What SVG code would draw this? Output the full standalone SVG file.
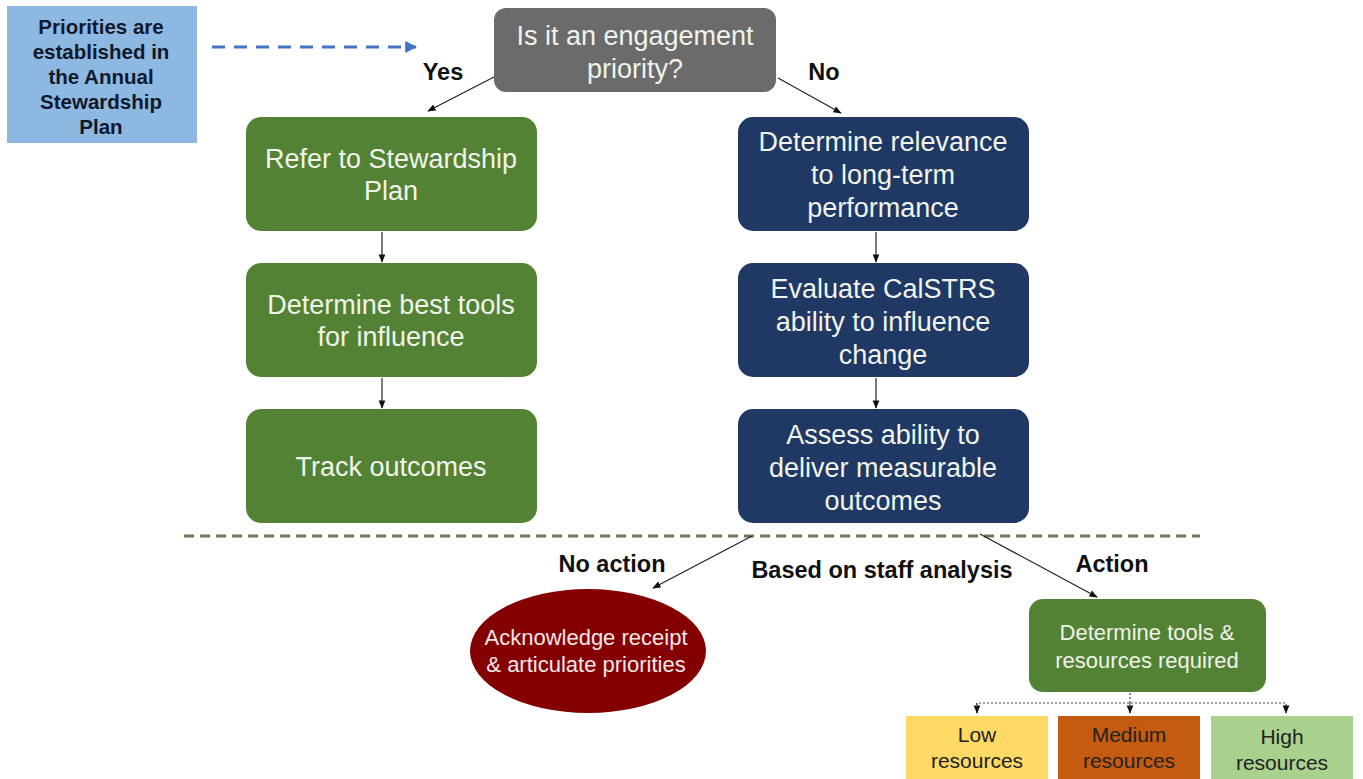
<svg xmlns="http://www.w3.org/2000/svg" width="1363" height="779" viewBox="0 0 1363 779">
<defs>
<marker id="ah" viewBox="0 0 10 10" refX="9" refY="5" markerWidth="7" markerHeight="7" orient="auto"><path d="M0,1 L10,5 L0,9 z" fill="#111"/></marker>
<marker id="ahb" viewBox="0 0 10 10" refX="9" refY="5" markerWidth="4" markerHeight="4" orient="auto"><path d="M0,0 L10,5 L0,10 z" fill="#4472c4"/></marker>
<style>
.t{font-family:"Liberation Sans",Arial,sans-serif;text-anchor:middle}
.w{fill:#f0f4ea;font-size:27px}
.lab{font-weight:bold;font-size:23.5px;fill:#111}
.green{fill:#548235}
.navy{fill:#1f3864}
.conn{stroke:#222;stroke-width:1.2;fill:none}
</style>
</defs>
<rect width="1363" height="779" fill="#fff"/>

<g id="plan">
<rect x="7" y="6" width="190" height="137" fill="#8cb8e2"/>
<text class="t" font-weight="bold" font-size="20.5" fill="#10182a"><tspan x="101" y="34">Priorities are</tspan><tspan x="101" y="59">established in</tspan><tspan x="101" y="84">the Annual</tspan><tspan x="101" y="109">Stewardship</tspan><tspan x="101" y="134">Plan</tspan></text>
</g>

<g id="question">
<rect x="494" y="8" width="282" height="84" rx="12" fill="#6b6b6b"/>
<text class="t w"><tspan x="635" y="45">Is it an engagement</tspan><tspan x="635" y="78">priority?</tspan></text>
</g>

<g id="yes-label"><text class="t lab" x="443" y="80" font-size="25">Yes</text></g>
<g id="no-label"><text class="t lab" x="824" y="80" font-size="25">No</text></g>

<g id="refer">
<rect class="green" x="246" y="117" width="291" height="114" rx="15"/>
<text class="t w"><tspan x="391" y="168">Refer to Stewardship</tspan><tspan x="391" y="200">Plan</tspan></text>
</g>
<g id="best-tools">
<rect class="green" x="246" y="263" width="291" height="114" rx="15"/>
<text class="t w"><tspan x="391" y="314">Determine best tools</tspan><tspan x="391" y="346">for influence</tspan></text>
</g>
<g id="track">
<rect class="green" x="246" y="409" width="291" height="114" rx="15"/>
<text class="t w" x="391" y="476">Track outcomes</text>
</g>

<g id="relevance">
<rect class="navy" x="738" y="117" width="291" height="114" rx="15"/>
<text class="t w"><tspan x="883" y="151">Determine relevance</tspan><tspan x="883" y="184">to long-term</tspan><tspan x="883" y="217">performance</tspan></text>
</g>
<g id="evaluate">
<rect class="navy" x="738" y="263" width="291" height="114" rx="15"/>
<text class="t w"><tspan x="883" y="298">Evaluate CalSTRS</tspan><tspan x="883" y="331">ability to influence</tspan><tspan x="883" y="364">change</tspan></text>
</g>
<g id="assess">
<rect class="navy" x="738" y="409" width="291" height="114" rx="15"/>
<text class="t w"><tspan x="883" y="444">Assess ability to</tspan><tspan x="883" y="477">deliver measurable</tspan><tspan x="883" y="510">outcomes</tspan></text>
</g>

<g id="divider">
<line x1="184" y1="536" x2="1200" y2="536" stroke="#6b7d50" stroke-width="3" stroke-dasharray="10 6"/>
</g>

<g id="no-action-label"><text class="t lab" x="612" y="572">No action</text></g>
<g id="staff-label"><text class="t lab" x="882" y="578">Based on staff analysis</text></g>
<g id="action-label"><text class="t lab" x="1112" y="572">Action</text></g>

<g id="acknowledge">
<ellipse cx="588" cy="651" rx="118" ry="62" fill="#840000"/>
<text class="t" font-size="22" fill="#f3e6e6"><tspan x="586" y="645">Acknowledge receipt</tspan><tspan x="586" y="672">&amp; articulate priorities</tspan></text>
</g>

<g id="tools-resources">
<rect class="green" x="1029" y="599" width="237" height="93" rx="14"/>
<text class="t" font-family="Lato,'Open Sans',sans-serif" font-size="22" fill="#eef3e8"><tspan x="1147" y="640">Determine tools &amp;</tspan><tspan x="1147" y="668">resources required</tspan></text>
</g>

<g id="low">
<rect x="906" y="716" width="142" height="63" fill="#ffd966"/>
<text class="t" font-size="21" fill="#222"><tspan x="977" y="742">Low</tspan><tspan x="977" y="768">resources</tspan></text>
</g>
<g id="medium">
<rect x="1058" y="716" width="142" height="63" fill="#c55a11"/>
<text class="t" font-size="21" fill="#222"><tspan x="1129" y="742">Medium</tspan><tspan x="1129" y="768">resources</tspan></text>
</g>
<g id="high">
<rect x="1211" y="716" width="142" height="63" fill="#a9d18e"/>
<text class="t" font-size="21" fill="#222"><tspan x="1282" y="744">High</tspan><tspan x="1282" y="770">resources</tspan></text>
</g>

<g id="connectors">
<line x1="212" y1="47" x2="416" y2="47" stroke="#4472c4" stroke-width="3" stroke-dasharray="13 9" marker-end="url(#ahb)"/>
<line class="conn" x1="494" y1="77" x2="428" y2="111" marker-end="url(#ah)"/>
<line class="conn" x1="778" y1="78" x2="841" y2="113" marker-end="url(#ah)"/>
<line class="conn" x1="382" y1="232" x2="382" y2="262" marker-end="url(#ah)"/>
<line class="conn" x1="382" y1="378" x2="382" y2="408" marker-end="url(#ah)"/>
<line class="conn" x1="876" y1="232" x2="876" y2="262" marker-end="url(#ah)"/>
<line class="conn" x1="876" y1="378" x2="876" y2="408" marker-end="url(#ah)"/>
<line class="conn" stroke="#555" x1="752" y1="536" x2="653" y2="588" marker-end="url(#ah)"/>
<line class="conn" stroke="#555" x1="980" y1="534" x2="1097" y2="597" marker-end="url(#ah)"/>
<g stroke="#444" stroke-width="1.2" stroke-dasharray="2 2" fill="none">
<line x1="1130" y1="693" x2="1130" y2="703"/>
<polyline points="977,713 977,703 1286,703 1286,713" marker-end="url(#ah)"/>
<line x1="1130" y1="703" x2="1130" y2="713" marker-end="url(#ah)"/>
<line x1="977" y1="703" x2="977" y2="713" marker-end="url(#ah)"/>
</g>
</g>
</svg>
